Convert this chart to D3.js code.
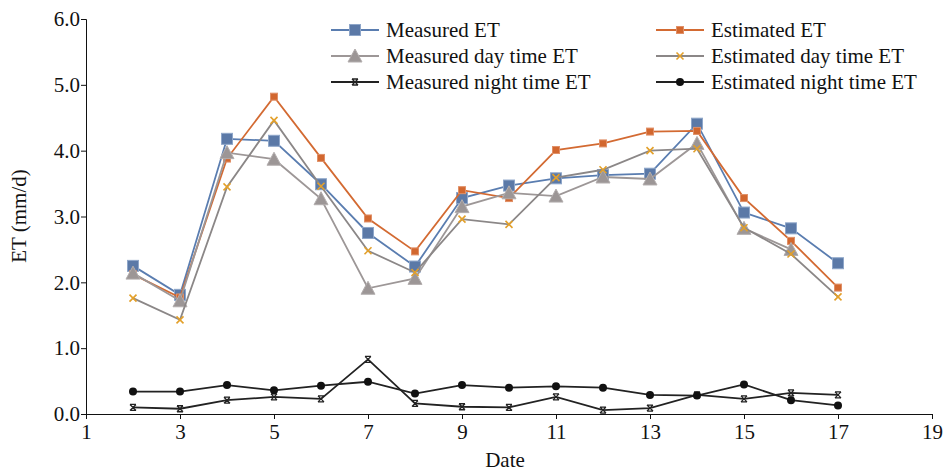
<html>
  <head>
    <script src="https://cdn.jsdelivr.net/npm/d3@7"></script>
    <meta charset="UTF-8">
    <style>
      body { margin: 0; background: #fff; }
      text { font-family: "Liberation Serif", "Times New Roman", serif; fill: #111; }
    </style>
  </head>
  <body>
    <svg id="chart" width="943" height="473"></svg>
    <script>
    // dates (x) and the six series
    var dates = [2, 3, 4, 5, 6, 7, 8, 9, 10, 11, 12, 13, 14, 15, 16, 17];
    var daytimeDates = [2, 3, 4, 5, 6, 7, 8, 9, 10, 11, 12, 13, 14, 15, 16];

    var measuredET = [2.25, 1.81, 4.18, 4.15, 3.49, 2.75, 2.24, 3.28, 3.47, 3.58, 3.63, 3.65, 4.41, 3.06, 2.82, 2.29];
    var estimatedET = [2.12, 1.77, 3.88, 4.82, 3.89, 2.97, 2.47, 3.40, 3.28, 4.01, 4.11, 4.29, 4.30, 3.28, 2.63, 1.92];
    var measuredDay = [2.14, 1.72, 3.97, 3.87, 3.27, 1.91, 2.06, 3.15, 3.36, 3.31, 3.60, 3.57, 4.11, 2.82, 2.50];
    var estimatedDay = [1.76, 1.43, 3.45, 4.46, 3.46, 2.48, 2.15, 2.96, 2.88, 3.59, 3.71, 4.00, 4.03, 2.83, 2.43, 1.78];
    var measuredNight = [0.10, 0.08, 0.21, 0.26, 0.23, 0.83, 0.16, 0.11, 0.10, 0.26, 0.06, 0.09, 0.29, 0.23, 0.32, 0.29];
    var estimatedNight = [0.34, 0.34, 0.44, 0.36, 0.43, 0.49, 0.31, 0.44, 0.40, 0.42, 0.40, 0.29, 0.28, 0.45, 0.21, 0.13];

    var xTicks = [1, 3, 5, 7, 9, 11, 13, 15, 17, 19];
    var yTicks = [0, 1, 2, 3, 4, 5, 6];

    var series = [
      {name: "Measured ET", x: dates, y: measuredET, line: "#5a7db0", marker: "square", size: 11, fill: "#5b79a7", stroke: "#8ea6c9"},
      {name: "Estimated ET", x: dates, y: estimatedET, line: "#d36a32", marker: "square", size: 7, fill: "#d2672f", stroke: "#e09068"},
      {name: "Measured day time ET", x: daytimeDates, y: measuredDay, line: "#9d9797", marker: "triangle", size: 12, fill: "#9c9696", stroke: "#b3aeae"},
      {name: "Estimated day time ET", x: dates, y: estimatedDay, line: "#8b8787", marker: "cross", size: 7, fill: "none", stroke: "#e3a02a"},
      {name: "Measured night time ET", x: dates, y: measuredNight, line: "#222", marker: "star", size: 6, fill: "none", stroke: "#222"},
      {name: "Estimated night time ET", x: dates, y: estimatedNight, line: "#222", marker: "circle", size: 8, fill: "#111", stroke: "#111"}
    ];

    var fontSize = 21;
    var svg = d3.select("#chart");
    var x = d3.scaleLinear().domain([1, 19]).range([86, 932]);
    var y = d3.scaleLinear().domain([0, 6]).range([414, 19]);

    // axes
    svg.append("g")
      .attr("transform", "translate(0,414)")
      .call(d3.axisBottom(x).tickValues(xTicks).tickSize(5).tickFormat(d3.format("d")))
      .call(g => g.select(".domain").attr("stroke", "#111"))
      .call(g => g.selectAll("line").attr("stroke", "#111"))
      .call(g => g.selectAll("text").attr("font-size", fontSize).attr("dy", "0.8em"));

    svg.append("g")
      .attr("transform", "translate(86,0)")
      .call(d3.axisLeft(y).tickValues(yTicks).tickSize(5).tickFormat(d3.format(".1f")))
      .call(g => g.select(".domain").attr("stroke", "#111"))
      .call(g => g.selectAll("line").attr("stroke", "#111"))
      .call(g => g.selectAll("text").attr("font-size", fontSize).attr("x", -6));

    svg.append("text")
      .attr("transform", "translate(26,216) rotate(-90)")
      .attr("text-anchor", "middle")
      .attr("font-size", fontSize)
      .text("ET (mm/d)");

    svg.append("text")
      .attr("x", 505).attr("y", 467)
      .attr("text-anchor", "middle")
      .attr("font-size", fontSize)
      .text("Date");

    function drawMarker(g, s, cx, cy) {
      var h = s.size / 2;
      if (s.marker == "square") {
        g.append("rect").attr("x", cx - h).attr("y", cy - h)
          .attr("width", s.size).attr("height", s.size)
          .attr("fill", s.fill).attr("stroke", s.stroke).attr("stroke-width", 1);
      } else if (s.marker == "triangle") {
        g.append("path")
          .attr("d", "M" + cx + "," + (cy - h - 1) + "L" + (cx + h + 1) + "," + (cy + h) + "L" + (cx - h - 1) + "," + (cy + h) + "Z")
          .attr("fill", s.fill).attr("stroke", s.stroke).attr("stroke-width", 1);
      } else if (s.marker == "cross") {
        g.append("path")
          .attr("d", "M" + (cx - h) + "," + (cy - h) + "L" + (cx + h) + "," + (cy + h) + "M" + (cx + h) + "," + (cy - h) + "L" + (cx - h) + "," + (cy + h))
          .attr("stroke", s.stroke).attr("stroke-width", 1.6);
      } else if (s.marker == "star") {
        g.append("path")
          .attr("d", "M" + (cx - h) + "," + (cy - h) + "L" + (cx + h) + "," + (cy + h) + "M" + (cx + h) + "," + (cy - h) + "L" + (cx - h) + "," + (cy + h) +
                     "M" + (cx - h) + "," + (cy - h) + "L" + (cx + h) + "," + (cy - h) + "M" + (cx - h) + "," + (cy + h) + "L" + (cx + h) + "," + (cy + h))
          .attr("stroke", s.stroke).attr("stroke-width", 1.3);
      } else {
        g.append("circle").attr("cx", cx).attr("cy", cy).attr("r", h)
          .attr("fill", s.fill);
      }
    }

    var line = d3.line().x(d => x(d[0])).y(d => y(d[1]));

    series.forEach(function(s) {
      var pts = s.x.map((d, i) => [d, s.y[i]]);
      var g = svg.append("g");
      g.append("path").attr("d", line(pts))
        .attr("fill", "none").attr("stroke", s.line).attr("stroke-width", 1.8);
      pts.forEach(p => drawMarker(g, s, x(p[0]), y(p[1])));
    });

    // legend, two columns
    series.forEach(function(s, i) {
      var lx = i % 2 == 0 ? 331 : 656;
      var ly = 30 + Math.floor(i / 2) * 26;
      var g = svg.append("g");
      g.append("line").attr("x1", lx).attr("x2", lx + 48).attr("y1", ly).attr("y2", ly)
        .attr("stroke", s.line).attr("stroke-width", 1.8);
      drawMarker(g, s, lx + 24, ly);
      g.append("text").attr("x", lx + 55).attr("y", ly).attr("dy", "0.35em")
        .attr("font-size", fontSize).text(s.name);
    });
    </script>
  </body>
</html>
